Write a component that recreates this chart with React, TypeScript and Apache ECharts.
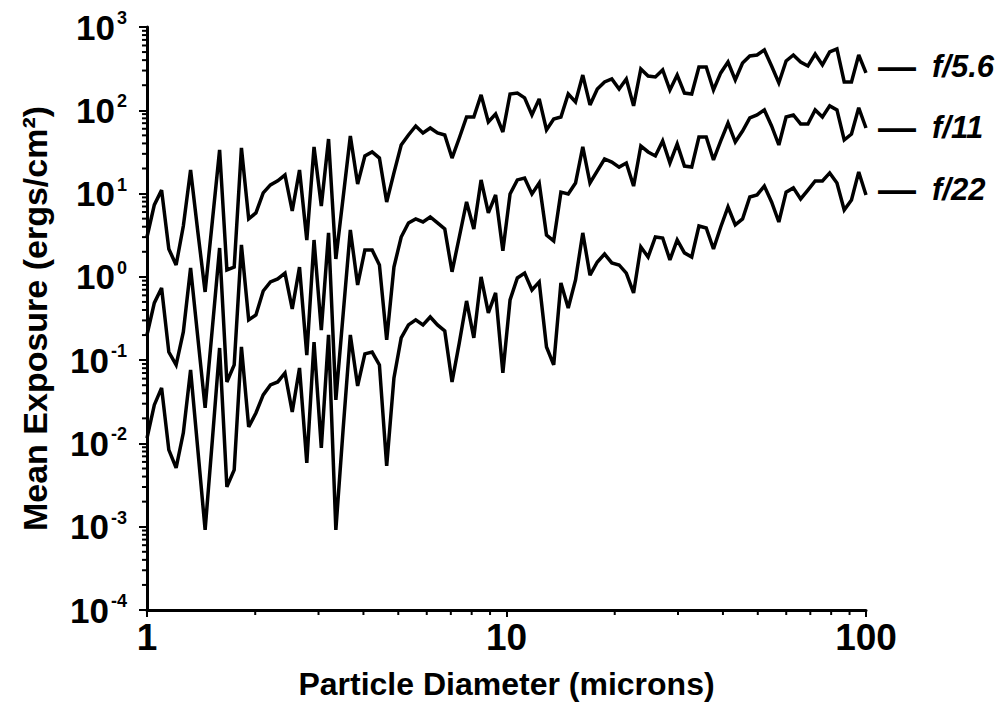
import React, { useEffect, useRef } from "react";
import * as echarts from "echarts";

const FONT = "'Liberation Sans', Arial, Helvetica, sans-serif";

// Particle diameter (microns), log-spaced sample points
const diameters = [
  1, 1.048, 1.098, 1.150, 1.205, 1.262, 1.322, 1.385, 1.451, 1.520,
  1.592, 1.668, 1.748, 1.831, 1.918, 2.009, 2.105, 2.205, 2.310, 2.420,
  2.535, 2.656, 2.783, 2.915, 3.054, 3.199, 3.352, 3.511, 3.678, 3.854,
  4.037, 4.229, 4.431, 4.642, 4.863, 5.094, 5.337, 5.591, 5.857, 6.136,
  6.428, 6.734, 7.055, 7.391, 7.743, 8.111, 8.498, 8.902, 9.326, 9.770,
  10.23, 10.72, 11.23, 11.77, 12.33, 12.92, 13.53, 14.17, 14.85, 15.56,
  16.30, 17.07, 17.89, 18.74, 19.63, 20.57, 21.54, 22.57, 23.64, 24.77,
  25.95, 27.19, 28.48, 29.84, 31.26, 32.75, 34.30, 35.94, 37.65, 39.44,
  41.32, 43.29, 45.35, 47.51, 49.77, 52.14, 54.62, 57.22, 59.95, 62.80,
  65.79, 68.93, 72.21, 75.65, 79.25, 83.02, 86.98, 91.12, 95.45, 100,
];

// Mean exposure (ergs/cm^2)
const f56 = [
  3.01, 7.30, 11.0, 2.16, 1.39, 4.08, 19.2, 3.46, 0.659, 4.69,
  33.4, 1.21, 1.31, 35.3, 4.96, 5.85, 10.2, 12.7, 14.2, 16.7,
  6.18, 19.2, 2.77, 36.3, 7.10, 45.2, 1.64, 8.85, 49.1, 13.0,
  28.3, 31.6, 26.7, 7.93, 17.7, 38.3, 50.5, 64.8, 53.4, 61.3,
  53.4, 50.5, 26.7, 46.5, 83.1, 83.1, 153, 72.4, 90.3, 54.9,
  157, 161, 141, 87.9, 137, 58.0, 78.7, 83.1, 157, 126,
  265, 116, 180, 219, 238, 180, 238, 113, 313, 258,
  251, 305, 175, 265, 161, 157, 331, 331, 175, 281,
  380, 231, 370, 449, 461, 530, 340, 213, 391, 461,
  380, 340, 474, 350, 501, 545, 219, 219, 461, 281,
];

const f11 = [
  0.201, 0.486, 0.736, 0.125, 0.0876, 0.218, 1.28, 0.185, 0.0267, 0.244,
  2.22, 0.0547, 0.0876, 2.42, 0.304, 0.349, 0.677, 0.869, 0.944, 1.11,
  0.412, 1.31, 0.115, 2.77, 0.230, 3.37, 0.0333, 0.349, 3.66, 0.800,
  2.10, 2.10, 1.39, 0.175, 1.31, 3.01, 4.44, 4.96, 4.56, 5.24,
  4.44, 3.76, 1.15, 3.01, 7.93, 3.76, 14.6, 5.85, 9.62, 2.05,
  9.89, 14.6, 15.4, 9.89, 13.4, 3.18, 2.70, 10.4, 9.89, 13.4,
  36.3, 13.4, 18.7, 26.0, 23.9, 20.8, 23.3, 12.3, 37.3, 31.6,
  28.3, 42.8, 23.3, 39.4, 21.4, 20.8, 47.8, 47.8, 25.3, 42.8,
  70.4, 41.6, 56.4, 80.9, 87.9, 101, 64.8, 38.3, 83.1, 87.9,
  68.5, 68.5, 101, 83.1, 113, 101, 44.0, 51.9, 107, 61.3,
];

const f22 = [
  0.0116, 0.0290, 0.0464, 0.00836, 0.00508, 0.0134, 0.0762, 0.00836, 0.000916, 0.0110,
  0.140, 0.00301, 0.00481, 0.144, 0.0158, 0.0232, 0.0382, 0.0504, 0.0547, 0.0702,
  0.0239, 0.0805, 0.00583, 0.165, 0.00883, 0.201, 0.000916, 0.0145, 0.201, 0.0490,
  0.119, 0.125, 0.0876, 0.00537, 0.0611, 0.185, 0.265, 0.304, 0.265, 0.330,
  0.265, 0.224, 0.0547, 0.161, 0.514, 0.185, 1.00, 0.369, 0.641, 0.0702,
  0.528, 0.970, 1.11, 0.696, 0.869, 0.144, 0.0876, 0.845, 0.423, 0.918,
  3.37, 1.05, 1.51, 1.88, 1.47, 1.39, 1.11, 0.641, 2.29, 1.73,
  3.01, 2.93, 1.60, 2.77, 1.94, 1.73, 4.08, 3.86, 2.16, 3.97,
  6.90, 4.20, 4.96, 9.10, 9.62, 12.3, 7.93, 4.56, 10.4, 11.7,
  8.61, 11.0, 14.2, 14.2, 17.7, 13.4, 6.35, 8.38, 18.2, 9.62,
];

const seriesNames = ["f/5.6", "f/11", "f/22"];
const seriesValues = [f56, f11, f22];
const labelOffsets = [-6, 0, -5];

// Minor tick positions
const xMinorTicks = [2, 3, 4, 5, 6, 7, 8, 9, 20, 30, 40, 50, 60, 70, 80, 90];
const yMinorMultipliers = [2, 3, 4, 5, 6, 7, 8, 9];
const yDecades = [1e-4, 1e-3, 1e-2, 1e-1, 1, 10, 100];
const yMinorTicks = yDecades.flatMap((d) => yMinorMultipliers.map((m) => m * d));

const X_MIN = 1;
const X_MAX = 100;
const Y_MIN = 1e-4;
const Y_MAX = 1e3;

export default function App() {
  const ref = useRef<HTMLDivElement>(null);

  useEffect(() => {
    if (!ref.current) return;
    const chart = echarts.init(ref.current, null, { renderer: "svg" });

    const lines = seriesNames.map((name, k) => ({
      type: "line",
      name,
      data: diameters.map((d, i) => [d, seriesValues[k][i]]),
      symbol: "none",
      showSymbol: false,
      silent: true,
      lineStyle: { color: "#000", width: 3.5, join: "miter", miterLimit: 3 },
      endLabel: {
        show: true,
        distance: 12,
        offset: [0, labelOffsets[k]],
        formatter: `{d|—}{t|${name}}`,
        rich: {
          d: { fontFamily: FONT, fontSize: 38, fontWeight: "bold", color: "#000" },
          t: {
            fontFamily: FONT,
            fontSize: 31,
            fontStyle: "italic",
            fontWeight: "bold",
            color: "#000",
            padding: [0, 0, 0, 16],
          },
        },
      },
    }));

    const xTicks = {
      type: "custom",
      coordinateSystem: "cartesian2d",
      silent: true,
      clip: false,
      data: xMinorTicks.map((v) => [v, Y_MIN]),
      renderItem: (_p: any, api: any) => {
        const p = api.coord([api.value(0), api.value(1)]);
        return {
          type: "line",
          shape: { x1: p[0], y1: p[1] + 1, x2: p[0], y2: p[1] + 5 },
          style: { stroke: "#000", lineWidth: 2 },
        };
      },
    };

    const yTicks = {
      type: "custom",
      coordinateSystem: "cartesian2d",
      silent: true,
      clip: false,
      data: yMinorTicks.map((v) => [X_MIN, v]),
      renderItem: (_p: any, api: any) => {
        const p = api.coord([api.value(0), api.value(1)]);
        return {
          type: "line",
          shape: { x1: p[0] - 5, y1: p[1], x2: p[0] - 1, y2: p[1] },
          style: { stroke: "#000", lineWidth: 2 },
        };
      },
    };

    chart.setOption({
      animation: false,
      backgroundColor: "#fff",
      grid: { left: 147, top: 27, width: 719, height: 583, containLabel: false },
      xAxis: {
        type: "log",
        logBase: 10,
        min: X_MIN,
        max: X_MAX,
        interval: 1,
        name: "Particle Diameter (microns)",
        nameLocation: "middle",
        nameGap: 58,
        nameTextStyle: { fontFamily: FONT, fontSize: 32, fontWeight: "bold", color: "#000" },
        axisLine: { show: true, lineStyle: { color: "#000", width: 3 } },
        axisTick: { show: true, length: 7, lineStyle: { color: "#000", width: 2 } },
        axisLabel: {
          margin: 9,
          fontFamily: FONT,
          fontSize: 37,
          fontWeight: "bold",
          color: "#000",
          formatter: (v: number) => String(Math.round(v)),
        },
        splitLine: { show: false },
      },
      yAxis: {
        type: "log",
        logBase: 10,
        min: Y_MIN,
        max: Y_MAX,
        interval: 1,
        name: "Mean Exposure (ergs/cm²)",
        nameLocation: "middle",
        nameGap: 95,
        nameTextStyle: { fontFamily: FONT, fontSize: 34, fontWeight: "bold", color: "#000" },
        axisLine: { show: true, lineStyle: { color: "#000", width: 3 } },
        axisTick: { show: true, length: 8, lineStyle: { color: "#000", width: 2 } },
        axisLabel: {
          margin: 20,
          formatter: (v: number) => `{b|10}{e|${Math.round(Math.log10(v))}}`,
          rich: {
            b: { fontFamily: FONT, fontSize: 35, fontWeight: "bold", color: "#000", lineHeight: 36 },
            e: {
              fontFamily: FONT,
              fontSize: 18,
              fontWeight: "bold",
              color: "#000",
              lineHeight: 16,
              verticalAlign: "top",
              padding: [0, 0, 0, 2],
            },
          },
        },
        splitLine: { show: false },
      },
      series: [...lines, xTicks, yTicks],
    });

    return () => chart.dispose();
  }, []);

  return (
    <div
      ref={ref}
      style={{ position: "absolute", left: 0, top: 0, width: 1003, height: 713, background: "#fff" }}
    />
  );
}
